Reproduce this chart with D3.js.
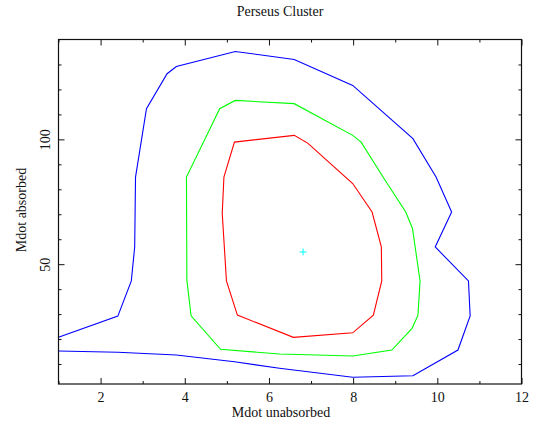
<!DOCTYPE html>
<html>
<head>
<meta charset="utf-8">
<script src="https://cdn.jsdelivr.net/npm/d3@7"></script>
<style>
    body { margin: 0; background: #fff; }
    svg text { font-family: "Liberation Serif", "DejaVu Serif", serif; fill: #111; }
</style>
</head>
<body>
<div id="chart-area"></div>
<script>

// contour levels, [Mdot unabsorbed, Mdot absorbed]
let outerContour = [
    [1.0, 20.7], [2.41, 29.2], [2.73, 43.3], [2.81, 56.9], [2.83, 84.9], [3.09, 112.3],
    [3.58, 126.3], [3.8, 129.2], [5.2, 135.2], [6.6, 132.0], [7.99, 121.6], [9.42, 100.3],
    [9.97, 84.9], [10.34, 70.9], [9.95, 56.9], [10.74, 43.3], [10.78, 29.3], [10.49, 15.6],
    [9.42, 5.3], [7.99, 4.7], [6.25, 8.3], [5.18, 10.9], [3.8, 13.6], [2.41, 14.7], [1.0, 15.2]
];

let middleContour = [
    [4.05, 43.6], [4.04, 84.9], [4.83, 112.3], [5.2, 115.6], [6.6, 114.3], [7.99, 101.6],
    [8.19, 98.9], [8.71, 84.9], [9.25, 70.9], [9.41, 64.3], [9.59, 43.3], [9.54, 29.6],
    [9.4, 24.3], [8.92, 15.6], [7.99, 13.2], [6.25, 14.0], [4.85, 15.9], [4.15, 29.3], [4.05, 43.6]
];

let innerContour = [
    [4.93, 84.9], [5.18, 98.9], [6.6, 101.6], [6.92, 98.5], [7.99, 82.3], [8.45, 70.9],
    [8.67, 56.9], [8.68, 43.3], [8.48, 29.6], [7.99, 22.5], [6.58, 20.7], [5.25, 29.6],
    [4.99, 43.3], [4.89, 70.3], [4.93, 84.9]
];

let bestFit = [6.81, 54.9];

let xMajorTicks = [2, 4, 6, 8, 10, 12];
let xMinorTicks = [1, 3, 5, 7, 9, 11];
let yMajorTicks = [50, 100];
let yMinorTicks = [10, 20, 30, 40, 60, 70, 80, 90, 110, 120, 130];

class ContourPlot {

    constructor(parentElement) {
        this.parentElement = parentElement;
    }

    initVis() {
        let vis = this;

        vis.left = 58.5;
        vis.right = 521.5;
        vis.top = 39.5;
        vis.bottom = 384;

        vis.svg = d3.select("#" + vis.parentElement)
            .append("svg")
            .attr("width", 539)
            .attr("height", 424);

        vis.x = d3.scaleLinear()
            .domain([1, 12])
            .range([vis.left, vis.right]);
        vis.y = d3.scaleLinear()
            .domain([2, 140])
            .range([vis.bottom, vis.top]);

        // Title and axis labels
        vis.svg.append("text")
            .attr("x", 280)
            .attr("y", 16)
            .attr("text-anchor", "middle")
            .attr("font-size", "14px")
            .text("Perseus Cluster");
        vis.svg.append("text")
            .attr("x", 281)
            .attr("y", 417)
            .attr("text-anchor", "middle")
            .attr("font-size", "14px")
            .text("Mdot unabsorbed");
        vis.svg.append("text")
            .attr("transform", "translate(26, 210) rotate(-90)")
            .attr("text-anchor", "middle")
            .attr("font-size", "14px")
            .text("Mdot absorbed");

        vis.updateVis();
    }

    drawAxis(axis, transform, labels, rotateLabels) {
        let vis = this;
        let g = vis.svg.append("g")
            .attr("transform", transform)
            .call(axis);
        g.select(".domain").remove();
        g.selectAll(".tick line").attr("stroke", "#111");
        if (!labels) {
            g.selectAll("text").remove();
        } else {
            g.selectAll("text")
                .attr("font-size", "14px")
                .attr("font-family", "Liberation Serif, serif")
                .attr("fill", "#111");
            if (rotateLabels) {
                g.selectAll("text")
                    .attr("transform", "rotate(-90)")
                    .attr("x", 0)
                    .attr("y", -9)
                    .attr("dy", 0)
                    .attr("text-anchor", "middle");
            } else {
                g.selectAll("text").attr("y", 8).attr("dy", "0.71em");
            }
        }
    }

    updateVis() {
        let vis = this;

        // Ticks on all four sides, pointing inward
        vis.drawAxis(d3.axisBottom(vis.x).tickValues(xMajorTicks).tickSize(-6).tickFormat(d3.format("d")),
            `translate(0,${vis.bottom})`, true, false);
        vis.drawAxis(d3.axisBottom(vis.x).tickValues(xMinorTicks).tickSize(-3),
            `translate(0,${vis.bottom})`, false);
        vis.drawAxis(d3.axisTop(vis.x).tickValues(xMajorTicks).tickSize(-6),
            `translate(0,${vis.top})`, false);
        vis.drawAxis(d3.axisTop(vis.x).tickValues(xMinorTicks).tickSize(-3),
            `translate(0,${vis.top})`, false);
        vis.drawAxis(d3.axisLeft(vis.y).tickValues(yMajorTicks).tickSize(-6),
            `translate(${vis.left},0)`, true, true);
        vis.drawAxis(d3.axisLeft(vis.y).tickValues(yMinorTicks).tickSize(-3),
            `translate(${vis.left},0)`, false);
        vis.drawAxis(d3.axisRight(vis.y).tickValues(yMajorTicks).tickSize(-6),
            `translate(${vis.right},0)`, false);
        vis.drawAxis(d3.axisRight(vis.y).tickValues(yMinorTicks).tickSize(-3),
            `translate(${vis.right},0)`, false);

        let line = d3.line()
            .x(d => vis.x(d[0]))
            .y(d => vis.y(d[1]));

        // Contours
        vis.svg.append("path")
            .datum(outerContour)
            .attr("fill", "none")
            .attr("stroke", "#0000ff")
            .attr("stroke-width", 1.1)
            .attr("d", line);
        vis.svg.append("path")
            .datum(middleContour)
            .attr("fill", "none")
            .attr("stroke", "#00ff00")
            .attr("stroke-width", 1.1)
            .attr("d", line);
        vis.svg.append("path")
            .datum(innerContour)
            .attr("fill", "none")
            .attr("stroke", "#ff0000")
            .attr("stroke-width", 1.1)
            .attr("d", line);

        // Best fit marker
        let cx = vis.x(bestFit[0]);
        let cy = vis.y(bestFit[1]);
        vis.svg.append("path")
            .attr("d", `M${cx - 3.5},${cy}H${cx + 3.5}M${cx},${cy - 3.5}V${cy + 3.5}`)
            .attr("stroke", "#00ffff")
            .attr("stroke-width", 1);

        // Frame
        vis.svg.append("rect")
            .attr("x", vis.left)
            .attr("y", vis.top)
            .attr("width", vis.right - vis.left)
            .attr("height", vis.bottom - vis.top)
            .attr("fill", "none")
            .attr("stroke", "#111")
            .attr("stroke-width", 1.2);
    }
}

let plot = new ContourPlot("chart-area");
plot.initVis();

</script>
</body>
</html>
